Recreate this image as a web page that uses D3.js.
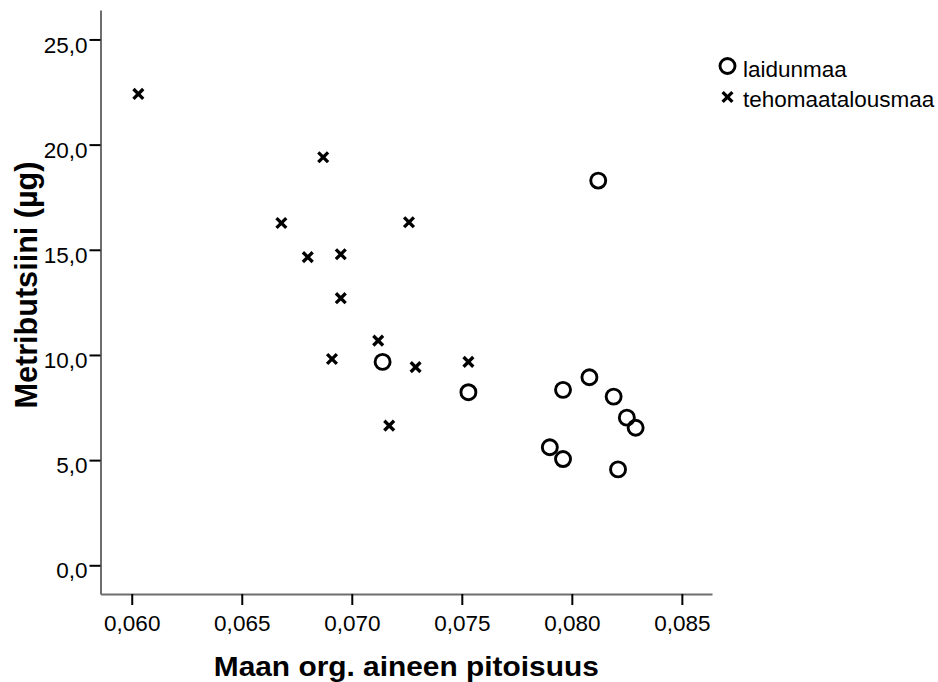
<!DOCTYPE html>
<html>
<head>
<meta charset="utf-8">
<script src="https://cdn.jsdelivr.net/npm/d3@7"></script>
<style>
  html, body { margin: 0; padding: 0; background: #fff; }
  text { font-family: "Liberation Sans", Arial, sans-serif; }
</style>
</head>
<body>
<svg id="chart" width="938" height="682"></svg>
<script>
// ---- Data ----
const seriesNames = ["laidunmaa", "tehomaatalousmaa"];

const laidunX = [0.0714, 0.0753, 0.0812, 0.0808, 0.0796, 0.0819, 0.0825, 0.0829, 0.0790, 0.0796, 0.0821];
const laidunY = [9.67, 8.23, 18.29, 8.94, 8.34, 8.02, 7.02, 6.54, 5.61, 5.05, 4.56];

const tehoX = [0.0603, 0.0687, 0.0668, 0.0726, 0.0680, 0.0695, 0.0695, 0.0712, 0.0691, 0.0729, 0.0753, 0.0717];
const tehoY = [22.41, 19.40, 16.27, 16.31, 14.65, 14.79, 12.70, 10.68, 9.81, 9.42, 9.67, 6.64];

const xTickValues = [0.060, 0.065, 0.070, 0.075, 0.080, 0.085];
const xTickLabels = ["0,060", "0,065", "0,070", "0,075", "0,080", "0,085"];
const yTickValues = [0, 5, 10, 15, 20, 25];
const yTickLabels = ["0,0", "5,0", "10,0", "15,0", "20,0", "25,0"];

const xTitle = "Maan org. aineen pitoisuus";
const yTitle = "Metributsiini (µg)";

// ---- Layout ----
const svg = d3.select("#chart");
const plotL = 100.5, plotR = 712, plotT = 10, plotB = 594;
const tickFont = 22.5;

const x = d3.scaleLinear().domain([0.05858, 0.08637]).range([plotL, plotR]);
const y = d3.scaleLinear().domain([-1.365, 26.4]).range([plotB, plotT]);

// X axis
const xAxis = d3.axisBottom(x)
  .tickValues(xTickValues)
  .tickFormat((d, i) => xTickLabels[i])
  .tickSize(11).tickSizeOuter(0).tickPadding(10);
const gx = svg.append("g").attr("transform", `translate(0,${plotB})`).call(xAxis);
gx.select(".domain").attr("stroke", "#6e6e6e").attr("stroke-width", 2);
gx.selectAll(".tick line").attr("stroke", "#000").attr("stroke-width", 2);
gx.selectAll(".tick text").attr("font-size", tickFont).attr("fill", "#000")
  .attr("font-family", "Liberation Sans, Arial, sans-serif");

// Y axis
const yAxis = d3.axisLeft(y)
  .tickValues(yTickValues)
  .tickFormat((d, i) => yTickLabels[i])
  .tickSize(11).tickSizeOuter(0).tickPadding(2);
const gy = svg.append("g").attr("transform", `translate(${plotL},0)`).call(yAxis);
gy.select(".domain").attr("stroke", "#6e6e6e").attr("stroke-width", 2);
gy.selectAll(".tick line").attr("stroke", "#000").attr("stroke-width", 2);
gy.selectAll(".tick text").attr("font-size", tickFont).attr("fill", "#000")
  .attr("dy", "0.56em")
  .attr("font-family", "Liberation Sans, Arial, sans-serif");

// Titles
svg.append("text")
  .attr("x", (plotL + plotR) / 2).attr("y", 676)
  .attr("text-anchor", "middle")
  .attr("font-size", 28).attr("font-weight", "bold")
  .attr("textLength", 385).attr("lengthAdjust", "spacingAndGlyphs")
  .text(xTitle);

svg.append("text")
  .attr("transform", `translate(37,285) scale(1.05,1) rotate(-90)`)
  .attr("text-anchor", "middle")
  .attr("font-size", 29).attr("font-weight", "bold")
  .attr("textLength", 247).attr("lengthAdjust", "spacingAndGlyphs")
  .text(yTitle);

// Points
const laidun = laidunX.map((v, i) => ({ x: v, y: laidunY[i] }));
const teho = tehoX.map((v, i) => ({ x: v, y: tehoY[i] }));
const cross = d3.symbol().type(d3.symbolTimes).size(64);

svg.append("g").selectAll("path").data(teho).join("path")
  .attr("transform", d => `translate(${x(d.x)},${y(d.y)})`)
  .attr("d", cross)
  .attr("fill", "none").attr("stroke", "#000").attr("stroke-width", 3.3);

svg.append("g").selectAll("circle").data(laidun).join("circle")
  .attr("cx", d => x(d.x)).attr("cy", d => y(d.y))
  .attr("r", 7.5)
  .attr("fill", "none").attr("stroke", "#000").attr("stroke-width", 2.9);

// Legend
const lg = svg.append("g");
lg.append("circle").attr("cx", 727.5).attr("cy", 66).attr("r", 7.5)
  .attr("fill", "none").attr("stroke", "#000").attr("stroke-width", 2.9);
lg.append("path").attr("transform", "translate(727.5,97)").attr("d", cross)
  .attr("fill", "none").attr("stroke", "#000").attr("stroke-width", 3.3);
lg.selectAll("text.leg").data(seriesNames).join("text")
  .attr("class", "leg")
  .attr("x", 743).attr("y", (d, i) => [77, 107][i])
  .attr("font-size", tickFont).attr("fill", "#000")
  .text(d => d);
</script>
</body>
</html>
